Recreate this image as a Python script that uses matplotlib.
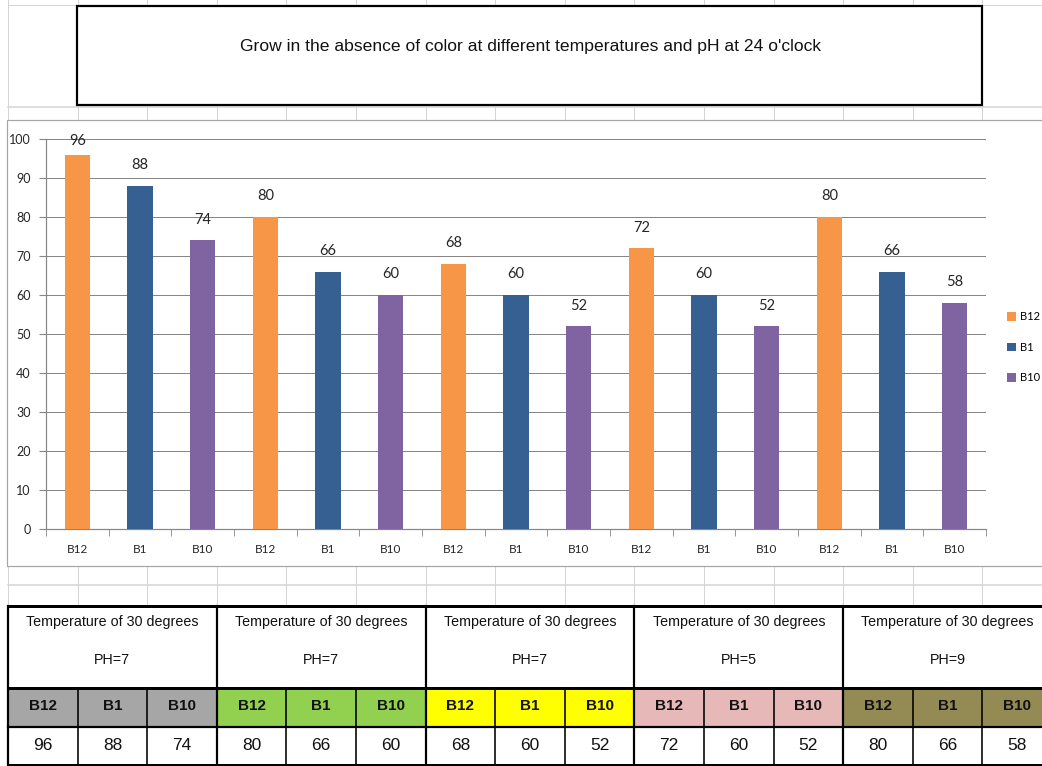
import numpy as np
import matplotlib
matplotlib.use('Agg')
import matplotlib.pyplot as plt
from matplotlib.patches import Rectangle

strains = ['B12', 'B1', 'B10']
b12 = [96, 80, 68, 72, 80]
b1 = [88, 66, 60, 60, 66]
b10 = [74, 60, 52, 52, 58]
temps = ['Temperature of 30 degrees'] * 5
phs = ['PH=7', 'PH=7', 'PH=7', 'PH=5', 'PH=9']
title = "Grow in the absence of color at different temperatures and pH at 24 o'clock"

bar_colors = ['#f79646', '#366092', '#8064a2']
head_colors = ['#a6a6a6', '#92d050', '#ffff00', '#e6b8b7', '#948a54']

W, H = 1042, 766
fig = plt.figure(figsize=(W / 100, H / 100), dpi=100)

narrow = ['Liberation Sans Narrow', 'Liberation Sans', 'DejaVu Sans']
chartf = ['Lato', 'DejaVu Sans']

#background sheet
bg = fig.add_axes([0, 0, 1, 1])
bg.set_xlim(0, W)
bg.set_ylim(H, 0)
bg.axis('off')

px = 0.72
light = '#d4d4d4'
cols = 8 + 69.6 * np.arange(16)

# spreadsheet grid above chart
for x in cols[:-1]:
    bg.plot([x, x], [0, 121], color=light, lw=px)
bg.plot([8, W], [5, 5], color=light, lw=px)
bg.plot([8, W], [107, 107], color=light, lw=1.5 * px)

# title box
bg.add_patch(Rectangle((77, 6), 905, 99, facecolor='white', edgecolor='black', lw=2.2 * px, zorder=3))
bg.text(530, 47, title, ha='center', va='center', fontsize=12.6, family=narrow, color='#111111', zorder=4)

# below chart grid
for x in cols[:-1]:
    bg.plot([x, x], [566, 606], color=light, lw=px)
bg.plot([8, W], [585, 585], color=light, lw=1.5 * px)

# chart area
bg.add_patch(Rectangle((7, 120), 1100, 446, facecolor='white', edgecolor='#a6a6a6', lw=1.2 * px, zorder=2))

# table
for g in range(5):
    x0 = cols[3 * g]
    bg.add_patch(Rectangle((x0, 688), cols[3 * g + 3] - x0, 39, facecolor=head_colors[g], edgecolor='none'))
    xc = (x0 + cols[3 * g + 3]) / 2
    bg.text(xc, 622, temps[g], ha='center', va='center', fontsize=10.3, family=narrow, color='#111111')
    bg.text(xc, 660, phs[g], ha='center', va='center', fontsize=10.3, family=narrow, color='#111111')
    vals = [b12[g], b1[g], b10[g]]
    for k in range(3):
        cx = (cols[3 * g + k] + cols[3 * g + k + 1]) / 2
        bg.text(cx, 706, strains[k], ha='center', va='center', fontsize=11, family=narrow,
                weight='bold', color='#111111')
        bg.text(cx, 745, str(vals[k]), ha='center', va='center', fontsize=12.5, family=narrow, color='#111111')

bg.plot([8, W], [606, 606], color='black', lw=3 * px)
bg.plot([8, W], [688, 688], color='black', lw=3 * px)
bg.plot([8, W], [727, 727], color='black', lw=2.2 * px)
bg.plot([8, W], [765, 765], color='black', lw=2 * px)
for i, x in enumerate(cols[:-1]):
    if i % 3 == 0:
        bg.plot([x, x], [606, 766], color='black', lw=2.2 * px)
    else:
        bg.plot([x, x], [688, 766], color='black', lw=1.6 * px)

#chart
x0, x1, y0, y1 = 46, 986, 529, 139
ax = fig.add_axes([x0 / W, 1 - y0 / H, (x1 - x0) / W, (y0 - y1) / H], zorder=5)
ax.set_facecolor('none')
series = [b12, b1, b10]
for k in range(3):
    pos = [3 * g + k for g in range(5)]
    ax.bar(pos, series[k], width=0.4, color=bar_colors[k], label=strains[k], zorder=3)
    for p, v in zip(pos, series[k]):
        ax.text(p, min(v + 5.3, 99.6), str(v), ha='center', va='center', fontsize=10.5,
                family=chartf, color='#262626')

ax.set_xlim(-0.5, 14.5)
ax.set_ylim(0, 100)
ax.set_yticks(range(0, 101, 10))
ax.set_xticks(range(15))
ax.set_xticklabels(strains * 5, family=chartf, fontsize=8.5, color='#262626')
for lbl in ax.get_yticklabels():
    lbl.set_family(chartf)
    lbl.set_fontsize(9)
    lbl.set_color('#262626')
ax.set_xticks(np.arange(-0.5, 15, 1), minor=True)
ax.tick_params(axis='x', which='major', length=0, pad=11)
ax.tick_params(axis='x', which='minor', length=5, color='#868686', direction='out')
ax.tick_params(axis='y', length=5, color='#868686', pad=6)
ax.grid(axis='y', color='#868686', lw=1 * px, zorder=0)
for s in ['top', 'right']:
    ax.spines[s].set_visible(False)
for s in ['left', 'bottom']:
    ax.spines[s].set_color('#868686')
    ax.spines[s].set_linewidth(1.2 * px)

fig.legend(loc='upper left', bbox_to_anchor=(1003 / W, 1 - 307 / H), frameon=False,
           prop={'family': chartf, 'size': 8}, handlelength=0.8, handleheight=0.8,
           handletextpad=0.3, labelspacing=1.75, borderaxespad=0)

fig.savefig('out.png', dpi=100)
